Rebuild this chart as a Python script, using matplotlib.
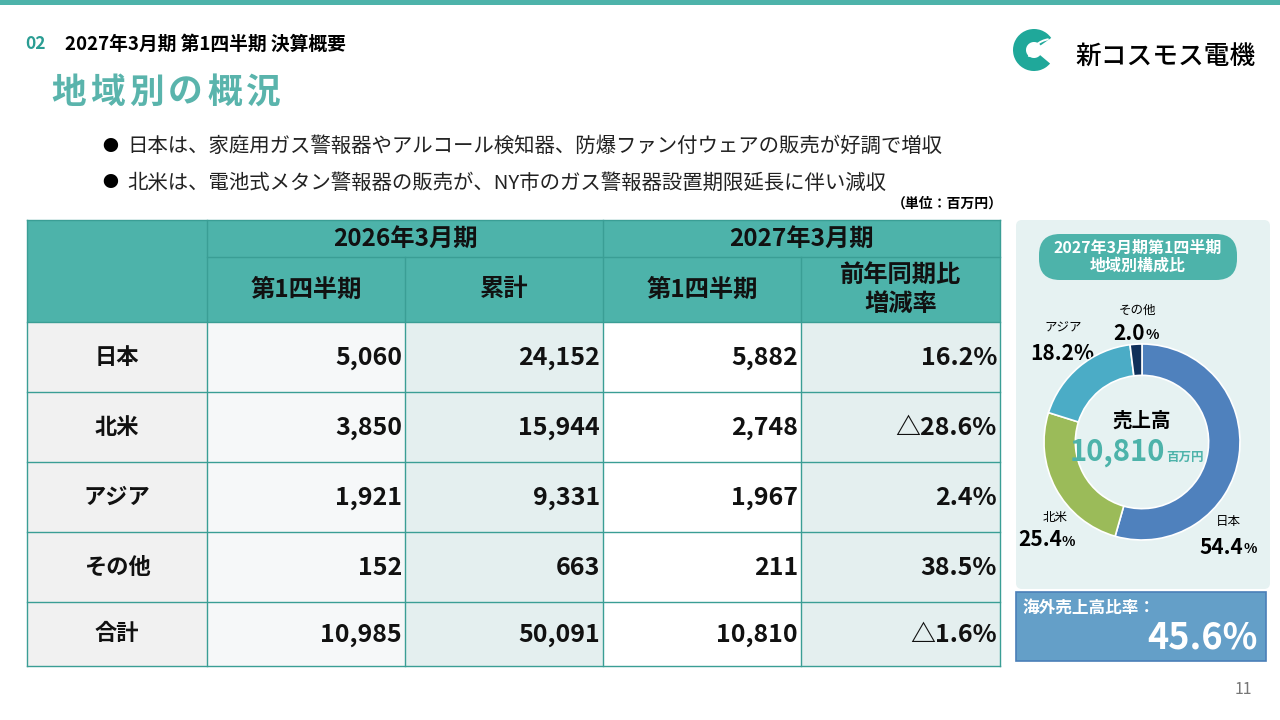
import matplotlib.pyplot as plt
from matplotlib.patches import Rectangle, FancyBboxPatch, Wedge

plt.rcParams['font.family'] = ['Noto Sans CJK JP', 'DejaVu Sans']

# データ（単位：百万円）
regions = ['日本', '北米', 'アジア', 'その他', '合計']
q1_2026 = [5060, 3850, 1921, 152, 10985]
cum_2026 = [24152, 15944, 9331, 663, 50091]
q1_2027 = [5882, 2748, 1967, 211, 10810]
yoy_rate = [16.2, -28.6, 2.4, 38.5, -1.6]

pie_labels = ['日本', '北米', 'アジア', 'その他']
pie_values = q1_2027[:4]
pie_colors = ['#4f81bd', '#9bbb59', '#4bacc6', '#10305a']

bullets = [
    '日本は、家庭用ガス警報器やアルコール検知器、防爆ファン付ウェアの販売が好調で増収',
    '北米は、電池式メタン警報器の販売が、NY市のガス警報器設置期限延長に伴い減収',
]

TEAL = '#4db3aa'
LINE = '#3a9e95'

fig = plt.figure(figsize=(12.8, 7.2), dpi=100)
ax = fig.add_axes([0, 0, 1, 1])
ax.set_xlim(0, 1280)
ax.set_ylim(720, 0)
ax.axis('off')

# 上部の帯
ax.add_patch(Rectangle((0, 0), 1280, 5, color=TEAL, lw=0))

# 見出し
ax.text(25, 44, '02', color='#2a9d93', fontsize=12.5, fontweight='bold', va='center')
ax.text(65, 44, '2027年3月期 第1四半期 決算概要', fontsize=13.5, fontweight='bold', va='center')
for i, ch in enumerate('地域別の概況'):
    ax.text(51 + i * 39, 92, ch, color='#5ab4ac', fontsize=25, fontweight='bold', va='center')

# ロゴ
ax.add_patch(Wedge((1034, 50), 21, 40, 325, width=13, color='#1fa89a', lw=0))
ax.add_patch(Wedge((1052, 63), 25, 195, 262, width=2, color='white', lw=0))
ax.text(1075, 57, '新コスモス電機', fontsize=18.5, fontweight='medium', va='center')

# 箇条書き
for i, b in enumerate(bullets):
    y = 146 + i * 37
    ax.text(110, y, '●', fontsize=11.5, va='center', ha='center')
    ax.text(127, y, b, fontsize=14.7, va='center', color='#222222')

ax.text(1003, 204, '（単位：百万円）', fontsize=10, fontweight='bold', va='center', ha='right')

# 表
col_x = [27, 207, 405, 603, 801, 1000]
row_y = [220, 257, 322, 392, 462, 532, 602, 666]
ax.add_patch(Rectangle((col_x[0], row_y[0]), col_x[-1] - col_x[0], row_y[2] - row_y[0],
                       color=TEAL, lw=0))
body_colors = ['#f1f1f1', '#f6f8f9', '#e4efef', '#ffffff', '#e4efef']
for c in range(5):
    ax.add_patch(Rectangle((col_x[c], row_y[2]), col_x[c + 1] - col_x[c],
                           row_y[-1] - row_y[2], color=body_colors[c], lw=0))

# 罫線
for i, y in enumerate(row_y):
    x0 = col_x[1] if i == 1 else col_x[0]
    ax.plot([x0, col_x[-1]], [y, y], color=LINE, lw=1)
for i, x in enumerate(col_x):
    y0 = row_y[1] if i in (2, 4) else row_y[0]
    ax.plot([x, x], [y0, row_y[-1]], color=LINE, lw=1)

# ヘッダー文字
hdr = dict(fontsize=17.5, fontweight='bold', va='center', ha='center', color='#111111')
ax.text((col_x[1] + col_x[3]) / 2, (row_y[0] + row_y[1]) / 2, '2026年3月期', **hdr)
ax.text((col_x[3] + col_x[5]) / 2, (row_y[0] + row_y[1]) / 2, '2027年3月期', **hdr)
sub = ['第1四半期', '累計', '第1四半期', '前年同期比\n増減率']
for c, s in enumerate(sub):
    ax.text((col_x[c + 1] + col_x[c + 2]) / 2, (row_y[1] + row_y[2]) / 2, s,
            linespacing=1.25, **hdr)


def fmt_rate(v):
    return ('△' if v < 0 else '') + f'{abs(v):.1f}%'


for r, name in enumerate(regions):
    yc = (row_y[r + 2] + row_y[r + 3]) / 2
    ax.text((col_x[0] + col_x[1]) / 2, yc, name, fontsize=16, fontweight='bold',
            va='center', ha='center', color='#111111')
    vals = [f'{q1_2026[r]:,}', f'{cum_2026[r]:,}', f'{q1_2027[r]:,}', fmt_rate(yoy_rate[r])]
    for c, v in enumerate(vals):
        ax.text(col_x[c + 2] - 3, yc + 1, v, fontsize=18, fontweight='bold',
                va='center', ha='right', color='#111111')

# 右パネル
ax.add_patch(FancyBboxPatch((1020, 224), 246, 361, boxstyle='round,pad=4,rounding_size=6',
                            color='#e6f2f2', lw=0))
ax.add_patch(FancyBboxPatch((1040, 235), 196, 44, boxstyle='round,pad=1,rounding_size=21',
                            color=TEAL, lw=0))
ax.text(1138, 257, '2027年3月期第1四半期\n地域別構成比', color='white', fontsize=11.5,
        fontweight='bold', va='center', ha='center', linespacing=1.1)

total = sum(pie_values)
shares = [v / total * 100 for v in pie_values]

pax = fig.add_axes([1044 / 1280, (720 - 540) / 720, 196 / 1280, 196 / 720])
pax.pie(pie_values, colors=pie_colors, startangle=90, counterclock=False,
        wedgeprops=dict(width=0.32, edgecolor='white', linewidth=1.2))
pax.set_xlim(-1, 1)
pax.set_ylim(-1, 1)
pax.set_aspect('auto')
pax.axis('off')

label_pos = {'日本': (1228, 522, 1235, 547), '北米': (1055, 517, 1054, 540),
             'アジア': (1063, 328, 1062, 353), 'その他': (1137, 310, 1137, 333)}
for name, s in zip(pie_labels, shares):
    lx, ly, vx, vy = label_pos[name]
    ax.text(lx, ly, name, fontsize=9, va='center', ha='center')
    if name == 'アジア':
        ax.text(vx, vy, f'{s:.1f}%', fontsize=15, fontweight='bold', va='center', ha='center')
        continue
    ax.text(vx + 8, vy, f'{s:.1f}', fontsize=15, fontweight='bold', va='center', ha='right')
    ax.text(vx + 8, vy + 2, '%', fontsize=10, fontweight='bold', va='center', ha='left')

# ドーナツ中央（パイの上に描く）
pax.text(1142, 421, '売上高', fontsize=14, fontweight='bold', va='center', ha='center',
         transform=ax.transData)
pax.text(1165, 452, f'{q1_2027[-1]:,}', fontsize=21, fontweight='bold', color=TEAL,
         va='center', ha='right', transform=ax.transData)
pax.text(1166, 457, '百万円', fontsize=9, fontweight='bold', color=TEAL, va='center',
         ha='left', transform=ax.transData)

# 海外売上高比率
overseas = 100 - shares[0]
ax.add_patch(Rectangle((1016, 592), 250, 69, facecolor='#649fc8', edgecolor='#4a7fb8', lw=1.2))
ax.text(1022, 608, '海外売上高比率：', color='white', fontsize=12, fontweight='bold', va='center')
ax.text(1258, 638, f'{overseas:.1f}%', color='white', fontsize=26, fontweight='bold',
        va='center', ha='right')

ax.text(1252, 690, '11', color='#777777', fontsize=11.5, va='center', ha='right')

fig.savefig('out.png', dpi=100, facecolor='white')
